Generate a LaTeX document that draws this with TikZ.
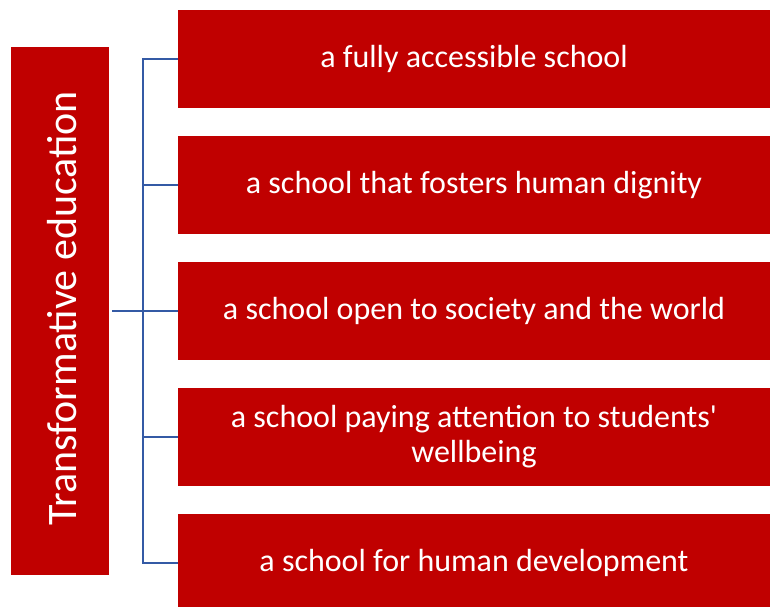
\documentclass[tikz,border=0pt]{standalone}
\usepackage{fontspec}
\setmainfont{Carlito}
\definecolor{boxred}{HTML}{C00000}
\definecolor{busblue}{RGB}{52,90,165}
\begin{document}
\begin{tikzpicture}[x=1bp,y=-1bp,
  item/.style={fill=boxred, text=white, minimum width=592bp, minimum height=98bp,
    inner sep=0pt, align=center, font=\fontsize{32bp}{35bp}\selectfont},
  head/.style={fill=boxred, text=white, minimum width=98bp, minimum height=528bp,
    inner sep=0pt},
  bus/.style={draw=busblue, line width=2.2bp}]
  \useasboundingbox (0,0) rectangle (771,607);
  % main heading, set vertically
  \node[head] (L) at (60,311) {};
  \node[rotate=90, text=white, font=\fontsize{42bp}{48bp}\selectfont] (Ltext) at (62,308) {Transformative education};
  % the five school qualities
  \node[item] (b1) at (474,59)  {a fully accessible school};
  \node[item] (b2) at (474,185) {a school that fosters human dignity};
  \node[item] (b3) at (474,311) {a school open to society and the world};
  \node[item] (b4) at (474,437) {a school paying attention to students\textquotesingle\\wellbeing};
  \node[item] (b5) at (474,563) {a school for human development};
  % bracket linking heading to items
  \coordinate (hook) at ([xshift=3bp]L.east);
  \draw[bus] (hook) -- (b3.west);
  \draw[bus] (b1.west) -- ++(-35,0) |- (b5.west);
  \draw[bus] (b2.west) -- ++(-35,0);
  \draw[bus] (b4.west) -- ++(-35,0);
\end{tikzpicture}
\end{document}
